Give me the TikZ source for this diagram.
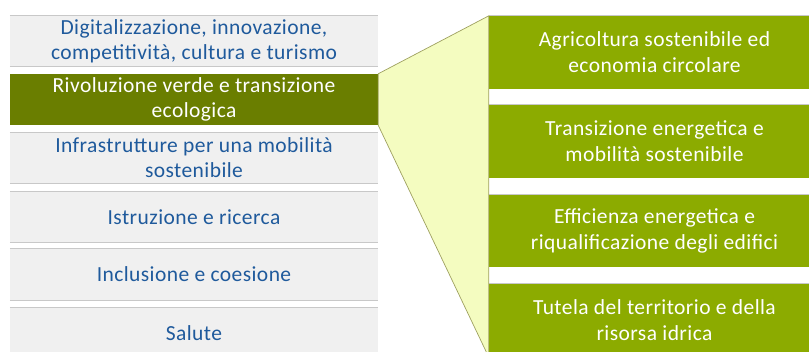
\documentclass[tikz,border=0pt]{standalone}
\usepackage{fontspec}
\setmainfont{Carlito}[LetterSpace=2]
\definecolor{panelgray}{HTML}{F0F0F0}
\definecolor{rulegray}{HTML}{C8C8C8}
\definecolor{textblue}{HTML}{1F5A9C}
\definecolor{darkolive}{HTML}{6A7E00}
\definecolor{leafgreen}{HTML}{8CAB00}
\definecolor{paleyellow}{HTML}{F4FCC0}
\definecolor{wedgeline}{HTML}{9EA060}
\begin{document}
\begin{tikzpicture}[x=1pt,y=-1pt,
  mission/.style={rectangle, fill=panelgray, text=textblue, inner sep=0pt,
    minimum width=368pt, minimum height=51pt, align=center,
    font=\fontsize{21.5}{25}\selectfont},
  activemission/.style={mission, fill=darkolive, text=white},
  component/.style={rectangle, fill=leafgreen, text=white, inner sep=0pt,
    minimum width=331pt, minimum height=73pt, align=center,
    font=\fontsize{21.5}{26}\selectfont},
  edge/.style={draw=rulegray, line width=0.8pt},
  wedge/.style={fill=paleyellow, draw=wedgeline, line width=0.7pt}]
\useasboundingbox (0,0) rectangle (809,352);

% missions (left column)
\node[mission]       (m1) at (194,41)    {Digitalizzazione, innovazione,\\competitività, cultura e turismo};
\node[activemission] (m2) at (194,99.5)  {Rivoluzione verde e transizione\\ecologica};
\node[mission]       (m3) at (194,158)   {Infrastrutture per una mobilità\\sostenibile};
\node[mission]       (m4) at (194,217)   {Istruzione e ricerca};
\node[mission]       (m5) at (194,274.5) {Inclusione e coesione};
\node[mission]       (m6) at (194,333)   {Salute};

\foreach \m in {m1,m3,m4,m5,m6}{
  \draw[edge] (\m.north west) -- (\m.north east);
  \draw[edge] (\m.south west) -- (\m.south east);
}

% components of the green mission (right column)
\node[component] (c1) at (654.5,52.5)  {Agricoltura sostenibile ed\\economia circolare};
\node[component] (c2) at (654.5,141.5) {Transizione energetica e\\mobilità sostenibile};
\node[component] (c3) at (654.5,231)   {Efficienza energetica e\\riqualificazione degli edifici};
\node[component] (c4) at (654.5,320.5) {Tutela del territorio e della\\risorsa idrica};

\foreach \c in {c1,c2,c3,c4}{
  \draw[edge] (\c.north west) -- (\c.north east);
}

% expanding wedge from the selected mission to its components
\draw[wedge] (m2.north east) -- (c1.north west) -- (c4.south west) -- (m2.south east) -- cycle;
\end{tikzpicture}
\end{document}
